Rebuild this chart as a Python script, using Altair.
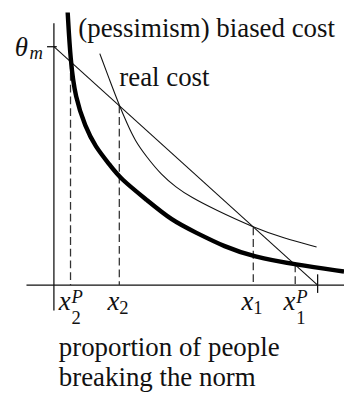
import altair as alt
import pandas as pd

# ---- values (theta_m = 1 on the cost axis, the right tick = 1 on the share axis)
biased_x = [0.052, 0.063, 0.081, 0.119, 0.156, 0.215, 0.252, 0.352, 0.448, 0.537, 0.648, 0.756, 0.915, 1.100]
biased_y = [1.148, 0.939, 0.787, 0.664, 0.582, 0.500, 0.447, 0.357, 0.270, 0.221, 0.160, 0.119, 0.086, 0.057]
real_x = [0.174, 0.211, 0.248, 0.278, 0.307, 0.352, 0.407, 0.463, 0.519, 0.611, 0.756, 0.870, 0.996]
real_y = [0.971, 0.861, 0.754, 0.676, 0.607, 0.537, 0.463, 0.410, 0.369, 0.316, 0.242, 0.197, 0.160]
diag_x = [0.0, 1.0]
diag_y = [1.0, 0.0]
theta_m = 1.0
x_full = 1.0
eq_x = [0.063, 0.248, 0.756, 0.915]
eq_y = [0.939, 0.754, 0.242, 0.086]
eq_sub = ["2", "2", "1", "1"]
eq_sup = ["P", "", "", "P"]
title_top = "(pessimism) biased cost"
title_real = "real cost"
xlabel = ["proportion of people", "breaking the norm"]

FONT = "Liberation Serif"
INK = "#111111"
BIG = 27.5
SMALL = 19

xs = alt.Scale(domain=[-0.17407, 1.1], nice=False, zero=False)
ys = alt.Scale(domain=[-0.45492, 1.14344], nice=False, zero=False)


def X(f="x"):
    return alt.X(f"{f}:Q", scale=xs, axis=None)


def Y(f="y"):
    return alt.Y(f"{f}:Q", scale=ys, axis=None)


biased = pd.DataFrame({"x": biased_x, "y": biased_y})
real = pd.DataFrame({"x": real_x, "y": real_y})
diag = pd.DataFrame({"x": diag_x, "y": diag_y})
eq = pd.DataFrame({"x": eq_x, "y": eq_y, "base": [0.0] * 4, "sub": eq_sub, "sup": eq_sup,
                   "xx": ["x"] * 4, "hasP": [s == "P" for s in eq_sup]})

axes_df = pd.DataFrame({
    "x": [0.0, -0.104, -0.026, x_full],
    "x2": [0.0, 1.1, 0.011, x_full],
    "y": [-0.107, 0.0, theta_m, 0.045],
    "y2": [1.098, 0.0, theta_m, -0.033],
})

axes = alt.Chart(axes_df).mark_rule(color=INK, strokeWidth=1.3).encode(
    x=X(), x2="x2:Q", y=Y(), y2="y2:Q")

dashes = alt.Chart(eq).mark_rule(color="#333333", strokeWidth=1.3, strokeDash=[8, 4]).encode(
    x=X(), y=Y(), y2="base:Q")

line_b = alt.Chart(biased).mark_line(color="black", strokeWidth=4.5, interpolate="basis",
                                     clip=True).encode(x=X(), y=Y())
line_r = alt.Chart(real).mark_line(color=INK, strokeWidth=1.1, interpolate="basis").encode(
    x=X(), y=Y())
line_d = alt.Chart(diag).mark_line(color=INK, strokeWidth=1.1).encode(x=X(), y=Y())

# tick labels under the share axis
lab_x = alt.Chart(eq).mark_text(font=FONT, fontSize=BIG, fontStyle="italic", align="left",
                                baseline="alphabetic", dx=-12, dy=26, color=INK).encode(
    x=X(), y=Y("base"), text="xx:N")
lab_sub_plain = alt.Chart(eq[~eq["hasP"]]).mark_text(font=FONT, fontSize=SMALL, align="left",
                                                     baseline="alphabetic", dx=0, dy=30, color=INK).encode(
    x=X(), y=Y("base"), text="sub:N")
lab_sub_p = alt.Chart(eq[eq["hasP"]]).mark_text(font=FONT, fontSize=SMALL, align="left",
                                                baseline="alphabetic", dx=1, dy=40, color=INK).encode(
    x=X(), y=Y("base"), text="sub:N")
lab_sup = alt.Chart(eq[eq["hasP"]]).mark_text(font=FONT, fontSize=SMALL, fontStyle="italic", align="left",
                                              baseline="alphabetic", dx=1, dy=18, color=INK).encode(
    x=X(), y=Y("base"), text="sup:N")

theta_df = pd.DataFrame({"x": [0.0], "y": [theta_m], "t": ["θ"], "m": ["m"]})
lab_theta = alt.Chart(theta_df).mark_text(font=FONT, fontSize=BIG, fontStyle="italic", align="left",
                                          baseline="alphabetic", dx=-40, dy=9, color=INK).encode(
    x=X(), y=Y(), text="t:N")
lab_m = alt.Chart(theta_df).mark_text(font=FONT, fontSize=SMALL, fontStyle="italic", align="left",
                                      baseline="alphabetic", dx=-25, dy=13, color=INK).encode(
    x=X(), y=Y(), text="m:N")

notes = pd.DataFrame({
    "x": [0.0926, 0.248, 0.0185, 0.0185],
    "y": [1.041, 0.836, -0.299, -0.422],
    "t": [title_top, title_real, xlabel[0], xlabel[1]],
})
lab_notes = alt.Chart(notes).mark_text(font=FONT, fontSize=BIG, align="left", baseline="alphabetic",
                                       color=INK).encode(x=X(), y=Y(), text="t:N")

chart = alt.layer(
    axes, dashes, line_d, line_r, line_b,
    lab_x, lab_sub_plain, lab_sub_p, lab_sup, lab_theta, lab_m, lab_notes,
).properties(
    width=344, height=390, padding=0,
    autosize=alt.AutoSizeParams(type="none"),
    background="white",
).configure_view(stroke=None)

chart.save("out.html", embed_options={"renderer": "svg", "actions": False})
